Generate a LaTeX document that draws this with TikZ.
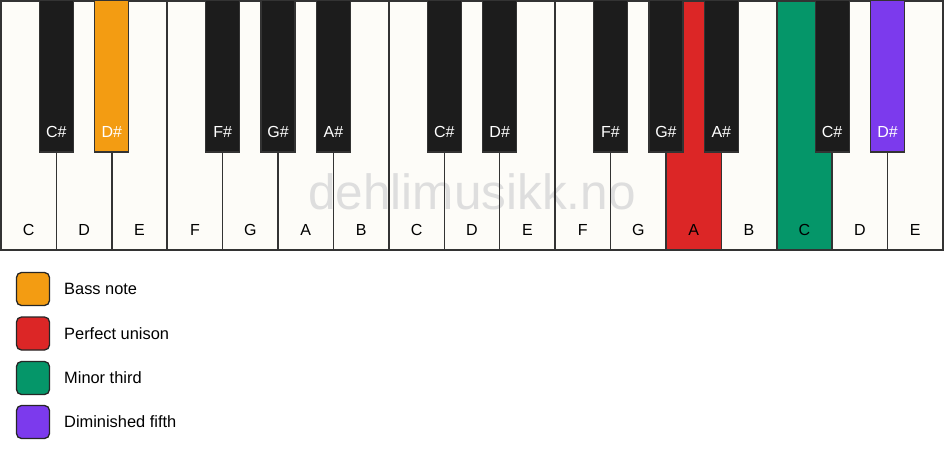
\documentclass[tikz,border=0pt]{standalone}
\usepackage{fontspec}
\setmainfont{Liberation Sans}
\definecolor{ivory}{HTML}{FDFCF8}
\definecolor{keyblack}{HTML}{1C1C1C}
\definecolor{edge}{HTML}{333333}
\definecolor{cbass}{HTML}{F39C12}
\definecolor{cunison}{HTML}{DC2626}
\definecolor{cthird}{HTML}{059669}
\definecolor{cfifth}{HTML}{7C3AED}
\definecolor{wm}{HTML}{DEDEDE}
\begin{document}
\begin{tikzpicture}[x=1pt,y=-1pt,
  wline/.style={draw=edge,line width=1.5pt},
  bkey/.style={draw=edge,line width=1.2pt},
  wlab/.style={font=\fontsize{16}{19}\selectfont,text=black,inner sep=0pt},
  blab/.style={font=\fontsize{16}{19}\selectfont,text=white,inner sep=0pt},
  legbox/.style={draw=black!85,line width=1.3pt,rounded corners=5pt,minimum width=33pt,minimum height=33pt,inner sep=0pt},
  legtext/.style={font=\fontsize{16.4}{19}\selectfont,anchor=west,inner sep=0pt}]
\useasboundingbox (0,0) rectangle (944,461);
\fill[white] (0,0) rectangle (944,461);
\def\W{55.41}
% white key fills
\foreach \i in {0,...,16}{
  \fill[ivory] (\i*\W+1,1) rectangle ({(\i+1)*\W+1},250);
}
\fill[cunison] (12*\W+1,1) rectangle (13*\W+1,250);
\fill[cthird] (14*\W+1,1) rectangle (15*\W+1,250);
% watermark
\node[text=wm,font=\fontsize{49.5}{55}\selectfont,inner sep=0pt] (watermark) at (472,192) {dehlimusikk.no};
% white key borders
\foreach \i in {1,...,16}{
  \draw[wline] (\i*\W+1,1) -- (\i*\W+1,250);
}
\draw[wline] (1,1) rectangle (943,250);
% white labels
\foreach \n [count=\i from 0] in {C,D,E,F,G,A,B,C,D,E,F,G,A,B,C,D,E}{
  \node[wlab] (w\i) at ({(\i+0.5)*\W+1},230) {\n};
}
% black keys
\foreach \b/\n/\c in {1/C\#/keyblack,2/D\#/cbass,4/F\#/keyblack,5/G\#/keyblack,6/A\#/keyblack,8/C\#/keyblack,9/D\#/keyblack,11/F\#/keyblack,12/G\#/keyblack,13/A\#/keyblack,15/C\#/keyblack,16/D\#/cfifth}{
  \draw[bkey,fill=\c] (\b*\W+1-17,0) rectangle (\b*\W+1+17,152);
  \node[blab] (b\b) at (\b*\W+1,132) {\n};
}
% legend
\node[legbox,fill=cbass] (l1) at (33,289) {};
\node[legbox,fill=cunison] (l2) at (33,333.5) {};
\node[legbox,fill=cthird] (l3) at (33,378) {};
\node[legbox,fill=cfifth] (l4) at (33,422) {};
\node[legtext] (t1) at (64,289) {Bass note};
\node[legtext] (t2) at (64,333.5) {Perfect unison};
\node[legtext] (t3) at (64,378) {Minor third};
\node[legtext] (t4) at (64,422) {Diminished fifth};
\end{tikzpicture}
\end{document}
